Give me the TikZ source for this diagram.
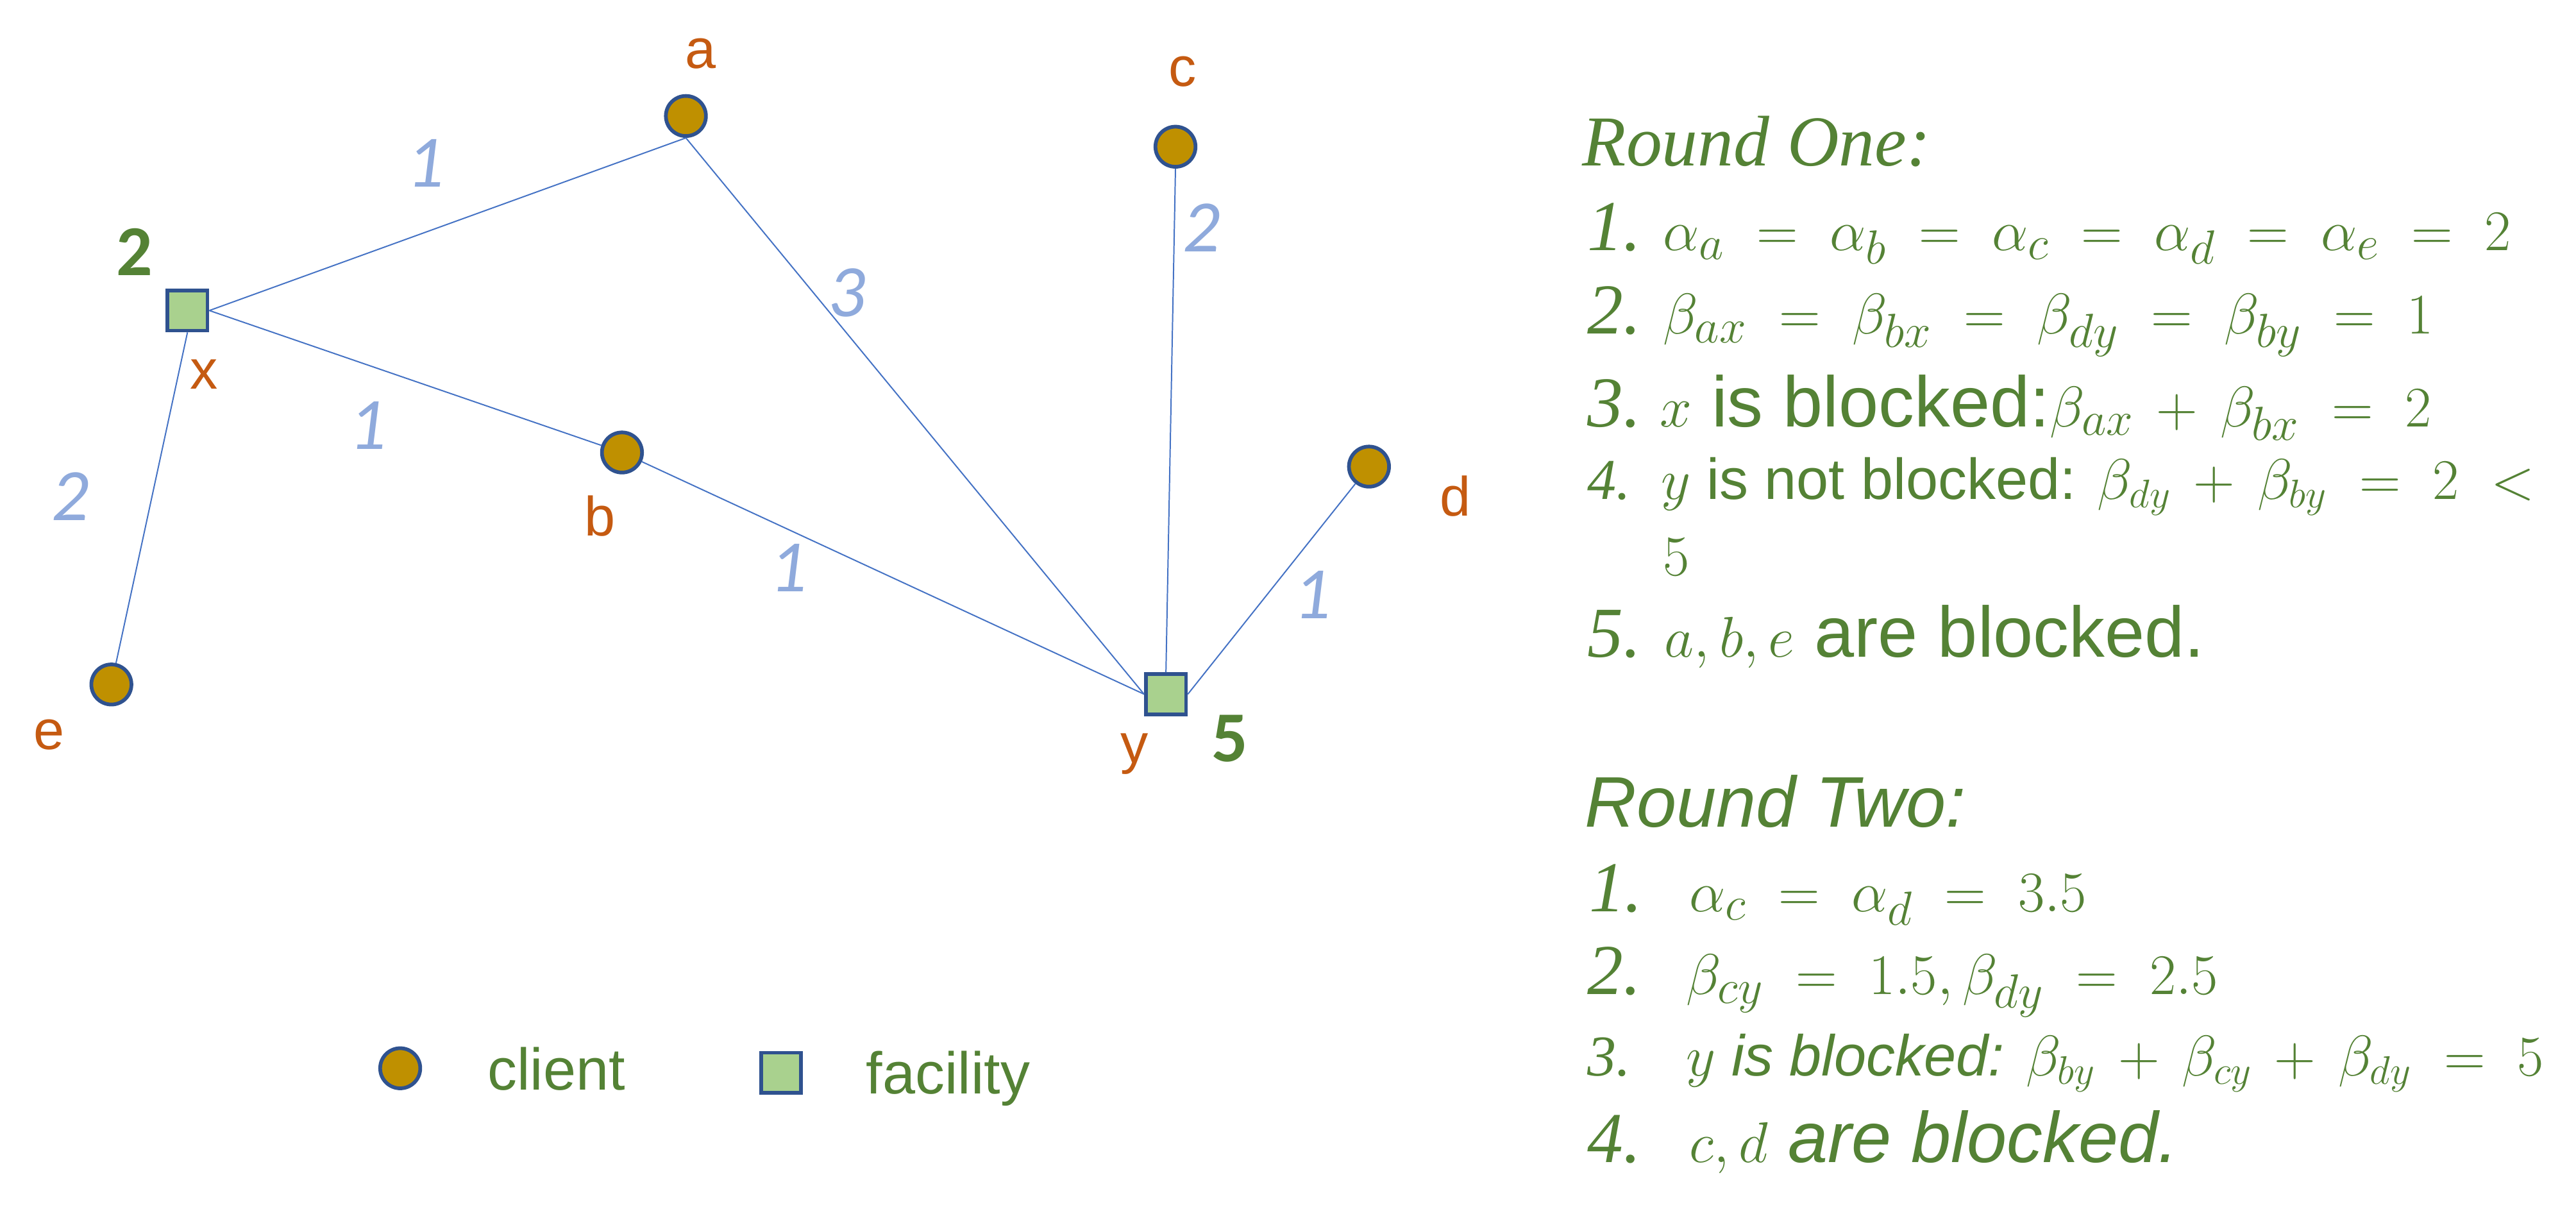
\documentclass[tikz,border=0pt]{standalone}
\usepackage{fontspec}
\setmainfont{Liberation Serif}
\setsansfont{Liberation Sans}
\newfontfamily\calibri{Carlito}
\usepackage{xcolor}
\usepackage{tikz}

\definecolor{clientfill}{HTML}{BF9000}
\definecolor{nodeborder}{HTML}{2F528F}
\definecolor{facilityfill}{HTML}{A9D18E}
\definecolor{edgeblue}{HTML}{4472C4}
\definecolor{weightblue}{HTML}{8FAADC}
\definecolor{labelorange}{HTML}{C55A11}
\definecolor{textgreen}{HTML}{548235}

\thickmuskip=10mu
\medmuskip=7mu

\tikzset{
  client/.style={circle, draw=nodeborder, line width=1.6pt, fill=clientfill, minimum size=0.61cm, inner sep=0pt},
  facility/.style={rectangle, draw=nodeborder, line width=1.6pt, fill=facilityfill, minimum size=0.61cm, inner sep=0pt},
  lbl/.style={text=labelorange, font=\sffamily\fontsize{24}{29}\selectfont, inner sep=0pt},
  cost/.style={text=textgreen, font=\calibri\bfseries\fontsize{31}{37}\selectfont, inner sep=0pt},
  weight/.style={text=weightblue, font=\calibri\itshape\fontsize{32}{38}\selectfont, inner sep=0pt},
  conn/.style={draw=edgeblue, line width=0.55pt},
  txt/.style={anchor=base west, inner sep=0pt, text=textgreen, font=\fontsize{31}{37}\selectfont},
  txtsmall/.style={txt, font=\fontsize{25}{30}\selectfont},
}

\begin{document}
\begin{tikzpicture}[x=0.025cm, y=-0.025cm]
  \path[use as bounding box] (0,0) rectangle (1568,744);

  \node[client] (a) at (417.5,70.6) {};
  \node[client] (c) at (715.5,89.3) {};
  \node[facility] (x) at (114.1,189) {};
  \node[client] (b) at (378.6,275.4) {};
  \node[client] (d) at (833.3,284) {};
  \node[client] (e) at (67.8,416.6) {};
  \node[facility] (y) at (709.7,422.5) {};

  \node[lbl] (la) at (426.3,32.7) {a};
  \node[lbl] (lc) at (719.8,43.4) {c};
  \node[lbl] (lx) at (124,228) {x};
  \node[lbl] (lb) at (365.1,314) {b};
  \node[lbl] (ld) at (885.8,302) {d};
  \node[lbl] (le) at (30,447) {e};
  \node[lbl] (ly) at (690.5,459) {y};

  \node[cost] (costx) at (82,153.5) {2};
  \node[cost] (costy) at (748.6,449.7) {5};

  \draw[conn] (x.east) -- (a.south);
  \draw[conn] (x.east) -- (b);
  \draw[conn] (x.south) -- (e);
  \draw[conn] (a.south) -- (y.west);
  \draw[conn] (b) -- (y.west);
  \draw[conn] (c.south) -- (y.north);
  \draw[conn] (d) -- (y.east);

  \node[weight] (wxa) at (259,99.5) {1};
  \node[weight] (wxb) at (224,259) {1};
  \node[weight] (way) at (515.5,178) {3};
  \node[weight] (wcy) at (731.5,138.6) {2};
  \node[weight] (wxe) at (42.9,302) {2};
  \node[weight] (wby) at (480.1,345.8) {1};
  \node[weight] (wdy) at (799,362) {1};

  % legend
  \node[client] (lgclient) at (243.6,650.2) {};
  \node[txt, font=\sffamily\fontsize{25.5}{30}\selectfont] (lgclienttxt) at (296.6,663.2) {client};
  \node[facility] (lgfacility) at (475.4,652.9) {};
  \node[txt, font=\sffamily\fontsize{25.5}{30}\selectfont] (lgfacilitytxt) at (527,665.8) {facility};

  % round one
  \node[txt] (r1) at (963,100.8) {\itshape Round One:};
  \node[txt] (r1n1) at (966,152.5) {\itshape 1.};
  \node[txt] (r1l1) at (1012,152.5) {$\alpha_a=\alpha_b=\alpha_c=\alpha_d=\alpha_e=2$};
  \node[txt] (r1n2) at (966,203.2) {\itshape 2.};
  \node[txt] (r1l2) at (1012,203.2) {$\beta_{ax}=\beta_{bx}=\beta_{dy}=\beta_{by}=1$};
  \node[txt] (r1n3) at (966,259.6) {\itshape 3.};
  \node[txt] (r1l3) at (1010,259.6) {$x$\textsf{ is blocked:}$\beta_{ax}+\beta_{bx}=2$};
  \node[txtsmall] (r1n4) at (966,303.8) {\itshape 4.};
  \node[txtsmall] (r1l4) at (1011,303.8) {$y$\textsf{ is not blocked: }$\beta_{dy}+\beta_{by}=2<$};
  \node[txtsmall] (r1l4b) at (1012,350.2) {$5$};
  \node[txt] (r1n5) at (966,400) {\itshape 5.};
  \node[txt] (r1l5) at (1013,400) {$a,b,e$\textsf{ are blocked.}};

  % round two
  \node[txt] (r2) at (964.5,503.5) {\sffamily\itshape Round Two:};
  \node[txt] (r2n1) at (967,554.7) {\itshape 1.};
  \node[txt] (r2l1) at (1028,554.7) {$\alpha_c=\alpha_d=3.5$};
  \node[txt] (r2n2) at (966,605.4) {\itshape 2.};
  \node[txt] (r2l2) at (1026,605.4) {$\beta_{cy}=1.5,\beta_{dy}=2.5$};
  \node[txtsmall] (r2n3) at (966,654.6) {\itshape 3.};
  \node[txtsmall] (r2l3) at (1026,654.6) {$y$\textsf{\itshape\ is blocked: }$\beta_{by}+\beta_{cy}+\beta_{dy}=5$};
  \node[txt] (r2n4) at (966,707.6) {\itshape 4.};
  \node[txt] (r2l4) at (1028,707.6) {$c,d$\textsf{\itshape\ are blocked.}};
\end{tikzpicture}
\end{document}
